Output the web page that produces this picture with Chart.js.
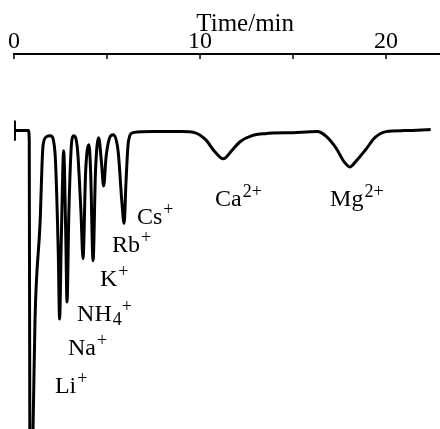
<!DOCTYPE html>
<html>
<head>
<meta charset="utf-8">
<script src="https://cdn.jsdelivr.net/npm/chart.js@4"></script>
<style>
  body { margin: 0; background: #fff; }
  canvas { display: block; }
</style>
</head>
<body>
<canvas id="chart" width="440" height="429"></canvas>
<script>
// detector trace: time (min) and response (arbitrary units, baseline = 0)
const times = [0.05, 0.78, 0.82, 0.85, 0.95, 1.02, 1.13, 1.40, 1.56, 1.75, 1.97, 2.20, 2.38, 2.45, 2.55, 2.67,
  2.78, 2.85, 2.95, 3.10, 3.20, 3.40, 3.60, 3.71, 3.85, 4.03, 4.12, 4.25, 4.38, 4.55, 4.70, 4.82, 4.95,
  5.20, 5.35, 5.60, 5.80, 5.92, 6.02, 6.15, 6.40, 7.50, 9.00, 9.70, 10.3, 10.8, 11.25, 11.7, 12.15,
  12.8, 13.5, 15.0, 16.3, 16.8, 17.3, 17.75, 18.05, 18.4, 18.9, 19.4, 20.0, 21.0, 22.4];
const signal = [1, 1, -10, -300, -360, -300, -186, -91, -14, -5, -4, -20, -120, -186, -100, -19,
  -100, -169, -80, -10, -4, -15, -80, -126, -40, -13, -40, -128, -40, -6, -30, -54, -25,
  -4, -3, -20, -70, -91, -50, -10, -1, 0, 0, -1, -8, -20, -27, -19, -10,
  -4, -2, -1, 0, -5, -16, -30, -35, -29, -18, -6, 0, 1, 2];

// injection mark at the start
const injectTimes = [0.05, 0.05];
const injectSignal = [11, -9];

const xTicks = [0, 5, 10, 15, 20];
const xLabels = [0, 10, 20];

// ion names, and where they sit (time, response of the text baseline)
const ionNames = ['Li', 'Na', 'NH', 'K', 'Rb', 'Cs', 'Ca', 'Mg'];
const ionSub = ['', '', '4', '', '', '', '', ''];
const ionSup = ['+', '+', '+', '+', '+', '+', '2+', '2+'];
const ionAtTime = [2.20, 2.90, 3.39, 4.62, 5.27, 6.61, 10.81, 16.99];
const ionAtSignal = [-259, -222, -188, -153, -119, -92, -74, -74];

const serif = '"Liberation Serif", "DejaVu Serif", serif';

const labelPlugin = {
  id: 'ionLabels',
  afterDraw(chart) {
    const ctx = chart.ctx;
    const xs = chart.scales.x;
    const ys = chart.scales.y;
    ctx.save();
    ctx.fillStyle = '#000';
    ctx.textBaseline = 'alphabetic';
    ctx.textAlign = 'left';

    // axis title
    ctx.font = '25px ' + serif;
    ctx.fillText('Time/min', xs.getPixelForValue(9.8), 31);

    // tick marks pointing down
    ctx.strokeStyle = '#000';
    ctx.lineWidth = 1.5;
    xTicks.forEach(v => {
      const px = xs.getPixelForValue(v);
      ctx.beginPath();
      ctx.moveTo(px, xs.bottom);
      ctx.lineTo(px, xs.bottom + 5);
      ctx.stroke();
    });

    for (let i = 0; i < ionNames.length; i++) {
      let x = xs.getPixelForValue(ionAtTime[i]);
      const y = ys.getPixelForValue(ionAtSignal[i]);
      ctx.font = '24px ' + serif;
      ctx.fillText(ionNames[i], x, y);
      x += ctx.measureText(ionNames[i]).width + 1;
      ctx.font = '18px ' + serif;
      if (ionSub[i]) {
        ctx.fillText(ionSub[i], x, y + 4);
        x += ctx.measureText(ionSub[i]).width;
      }
      ctx.fillText(ionSup[i], x, y - 9);
    }
    ctx.restore();
  }
};

const points = times.map((t, i) => ({ x: t, y: signal[i] }));
const injectPoints = injectTimes.map((t, i) => ({ x: t, y: injectSignal[i] }));

new Chart(document.getElementById('chart'), {
  type: 'line',
  data: {
    datasets: [{
      data: points,
      borderColor: '#000',
      borderWidth: 3,
      pointRadius: 0,
      cubicInterpolationMode: 'monotone',
      fill: false
    }, {
      data: injectPoints,
      borderColor: '#000',
      borderWidth: 2,
      pointRadius: 0,
      fill: false
    }]
  },
  options: {
    responsive: false,
    animation: false,
    layout: { padding: { left: 14, right: 0, top: 30, bottom: 0 } },
    plugins: { legend: { display: false }, tooltip: { enabled: false } },
    scales: {
      x: {
        type: 'linear',
        position: 'top',
        min: 0,
        max: 22.9,
        border: { display: true, color: '#000', width: 2 },
        grid: { display: false, drawTicks: false },
        ticks: {
          stepSize: 5,
          includeBounds: false,
          maxRotation: 0,
          padding: 0,
          color: '#000',
          font: { family: serif, size: 24, lineHeight: 1 },
          callback: v => xLabels.includes(v) ? String(v) : ''
        }
      },
      y: {
        display: false,
        min: -295,
        max: 77
      }
    }
  },
  plugins: [labelPlugin]
});
</script>
</body>
</html>
